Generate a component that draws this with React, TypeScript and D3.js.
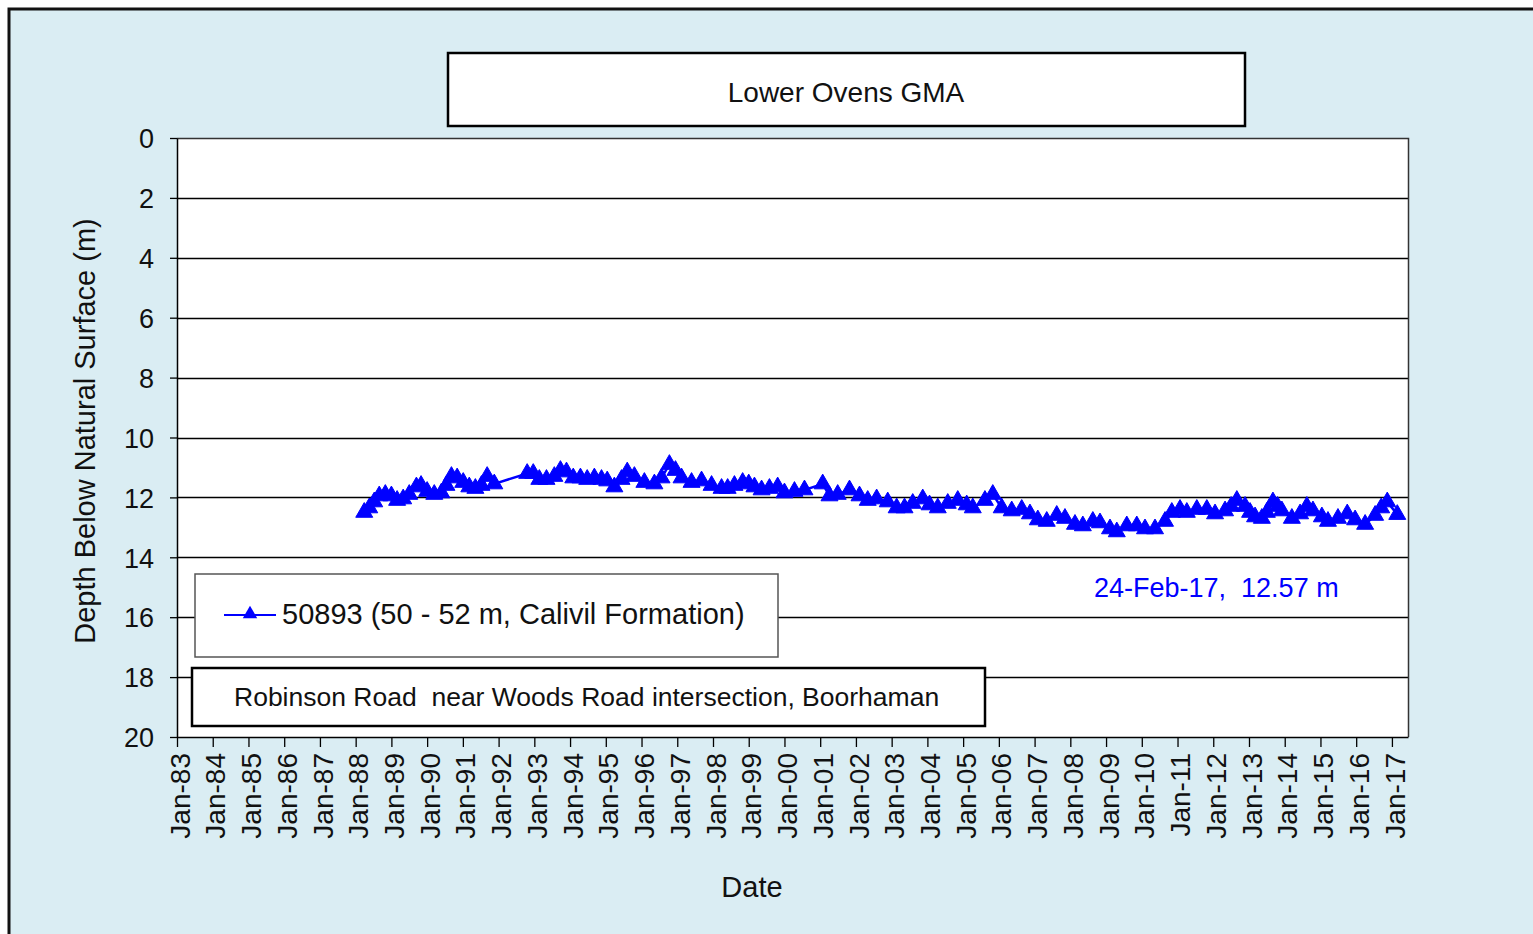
import { useEffect, useRef } from 'react';
import { axisBottom, axisLeft, line, range, scaleLinear, select, symbol, symbolTriangle } from 'd3';

// sample dates as decimal years
const sampleYears = [
  1988.24, 1988.38, 1988.52, 1988.66, 1988.83, 1989.0, 1989.16, 1989.33, 1989.5, 1989.7,
  1989.83, 1990.0, 1990.2, 1990.4, 1990.54, 1990.68, 1990.84, 1991.01, 1991.18, 1991.35,
  1991.52, 1991.68, 1991.88, 1992.8, 1992.97, 1993.14, 1993.34, 1993.56, 1993.73, 1993.9,
  1994.09, 1994.29, 1994.48, 1994.68, 1994.88, 1995.04, 1995.24, 1995.44, 1995.6, 1995.8,
  1996.08, 1996.36, 1996.56, 1996.78, 1996.95, 1997.12, 1997.4, 1997.68, 1997.96, 1998.24,
  1998.41, 1998.6, 1998.83, 1999.0, 1999.16, 1999.36, 1999.58, 1999.81, 2000.0, 2000.28,
  2000.56, 2001.07, 2001.26, 2001.49, 2001.82, 2002.1, 2002.33, 2002.58, 2002.89, 2003.14,
  2003.36, 2003.59, 2003.87, 2004.06, 2004.29, 2004.57, 2004.85, 2005.1, 2005.27, 2005.61,
  2005.83, 2006.08, 2006.36, 2006.64, 2006.87, 2007.09, 2007.34, 2007.62, 2007.85, 2008.13,
  2008.35, 2008.63, 2008.83, 2009.11, 2009.3, 2009.58, 2009.86, 2010.09, 2010.37, 2010.65,
  2010.84, 2011.07, 2011.26, 2011.54, 2011.82, 2012.05, 2012.33, 2012.5, 2012.66, 2012.89,
  2013.03, 2013.17, 2013.36, 2013.5, 2013.67, 2013.8, 2013.92, 2014.2, 2014.43, 2014.62,
  2014.79, 2015.04, 2015.21, 2015.49, 2015.75, 2015.97, 2016.25, 2016.53, 2016.7, 2016.87,
  2017.15,
];

// depth below natural surface (m)
const depths = [
  12.5, 12.35, 12.15, 11.95, 11.9, 11.95, 12.1, 12.05, 11.9, 11.65,
  11.6, 11.8, 11.9, 11.85, 11.6, 11.3, 11.35, 11.5, 11.65, 11.7,
  11.6, 11.3, 11.55, 11.2, 11.2, 11.4, 11.4, 11.3, 11.1, 11.15,
  11.35, 11.35, 11.4, 11.35, 11.4, 11.45, 11.65, 11.4, 11.15, 11.3,
  11.5, 11.55, 11.35, 10.9, 11.1, 11.35, 11.5, 11.45, 11.6, 11.7,
  11.7, 11.6, 11.5, 11.55, 11.65, 11.75, 11.7, 11.65, 11.85, 11.8,
  11.75, 11.55, 11.95, 11.9, 11.75, 11.95, 12.1, 12.05, 12.15, 12.35,
  12.35, 12.2, 12.05, 12.25, 12.35, 12.2, 12.1, 12.25, 12.35, 12.1,
  11.9, 12.35, 12.45, 12.4, 12.55, 12.75, 12.8, 12.6, 12.7, 12.9,
  12.95, 12.8, 12.85, 13.05, 13.15, 12.95, 12.95, 13.05, 13.05, 12.8,
  12.5, 12.4, 12.5, 12.4, 12.4, 12.55, 12.45, 12.3, 12.1, 12.3,
  12.5, 12.65, 12.7, 12.5, 12.15, 12.3, 12.45, 12.7, 12.55, 12.3,
  12.45, 12.65, 12.8, 12.7, 12.55, 12.75, 12.9, 12.6, 12.35, 12.15,
  12.57,
];

const tickYears = range(1983, 2018);
const depthTicks = [0, 2, 4, 6, 8, 10, 12, 14, 16, 18, 20];

const chartTitle = 'Lower Ovens GMA';
const seriesName = '50893 (50 - 52 m, Calivil Formation)';
const locationText = 'Robinson Road  near Woods Road intersection, Boorhaman';
const latestText = '24-Feb-17,  12.57 m';

const FONT = '"Liberation Sans", Arial, sans-serif';
const BLUE = '#0000ff';

export default function App() {
  const svgRef = useRef<SVGSVGElement | null>(null);

  const width = 1533;
  const height = 934;
  const plot = { left: 177, top: 138, right: 1408, bottom: 737 };

  useEffect(() => {
    const svgElement = svgRef.current;
    if (!svgElement) return;
    const svg = select(svgElement);
    svg.selectAll('*').remove();

    const x = scaleLinear().domain([1983, 2017.45]).range([plot.left, plot.right]);
    const y = scaleLinear().domain([0, 20]).range([plot.top, plot.bottom]);

    // outer frame
    svg.append('rect').attr('width', width).attr('height', height).attr('fill', '#ffffff');
    svg
      .append('rect')
      .attr('x', 9)
      .attr('y', 9)
      .attr('width', width + 40)
      .attr('height', height + 40)
      .attr('fill', '#daedf3')
      .attr('stroke', '#111')
      .attr('stroke-width', 3);

    // plot background
    svg
      .append('rect')
      .attr('x', plot.left)
      .attr('y', plot.top)
      .attr('width', plot.right - plot.left)
      .attr('height', plot.bottom - plot.top)
      .attr('fill', '#ffffff');

    // gridlines
    svg
      .append('g')
      .selectAll('line')
      .data(depthTicks.filter((d) => d > 0 && d < 20))
      .join('line')
      .attr('x1', plot.left)
      .attr('x2', plot.right)
      .attr('y1', (d) => Math.round(y(d)) + 0.5)
      .attr('y2', (d) => Math.round(y(d)) + 0.5)
      .attr('stroke', '#000')
      .attr('stroke-width', 1.3);

    // plot border top/right
    svg
      .append('path')
      .attr('d', `M${plot.left},${plot.top + 0.5}H${plot.right + 0.5}V${plot.bottom}`)
      .attr('fill', 'none')
      .attr('stroke', '#333')
      .attr('stroke-width', 1.5);

    // y axis
    const yAxis = svg
      .append('g')
      .attr('transform', `translate(${plot.left},0)`)
      .call(axisLeft(y).tickValues(depthTicks).tickSize(7).tickSizeOuter(0).tickPadding(16));
    yAxis.select('.domain').attr('stroke', '#000').attr('stroke-width', 1.5);
    yAxis.selectAll('.tick line').attr('stroke', '#000').attr('stroke-width', 1.3);
    yAxis
      .selectAll('.tick text')
      .attr('font-family', FONT)
      .attr('font-size', 27)
      .attr('fill', '#111')
      .attr('dy', '0.36em');

    // x axis
    const xAxis = svg
      .append('g')
      .attr('transform', `translate(0,${plot.bottom})`)
      .call(
        axisBottom(x)
          .tickValues(tickYears)
          .tickSize(10)
          .tickSizeOuter(0)
          .tickFormat((d) => `Jan-${String(Number(d) % 100).padStart(2, '0')}`),
      );
    xAxis.select('.domain').attr('stroke', '#000').attr('stroke-width', 1.5);
    xAxis.selectAll('.tick line').attr('stroke', '#000').attr('stroke-width', 1.3);
    xAxis
      .selectAll('.tick text')
      .attr('font-family', FONT)
      .attr('font-size', 28)
      .attr('fill', '#111')
      .attr('text-anchor', 'end')
      .attr('transform', 'rotate(-90)')
      .attr('x', -16)
      .attr('y', 2)
      .attr('dy', '0.36em');

    // series line + markers
    const points = sampleYears.map((yr, i) => [yr, depths[i]] as [number, number]);
    const path = line<[number, number]>()
      .x((d) => x(d[0]))
      .y((d) => y(d[1]));
    svg
      .append('path')
      .datum(points)
      .attr('d', path)
      .attr('fill', 'none')
      .attr('stroke', BLUE)
      .attr('stroke-width', 2.5);

    const tri = symbol().type(symbolTriangle).size(125);
    svg
      .append('g')
      .selectAll('path')
      .data(points)
      .join('path')
      .attr('transform', (d) => `translate(${x(d[0])},${y(d[1])})`)
      .attr('d', tri)
      .attr('fill', BLUE)
      .attr('stroke', BLUE)
      .attr('stroke-width', 1);

    // title box
    svg
      .append('rect')
      .attr('x', 448)
      .attr('y', 53)
      .attr('width', 797)
      .attr('height', 73)
      .attr('fill', '#fff')
      .attr('stroke', '#000')
      .attr('stroke-width', 2.5);
    svg
      .append('text')
      .attr('x', 846)
      .attr('y', 92)
      .attr('text-anchor', 'middle')
      .attr('dy', '0.35em')
      .attr('font-family', FONT)
      .attr('font-size', 28)
      .attr('fill', '#111')
      .text(chartTitle);

    // legend box
    svg
      .append('rect')
      .attr('x', 195)
      .attr('y', 574)
      .attr('width', 583)
      .attr('height', 83)
      .attr('fill', '#fff')
      .attr('stroke', '#555')
      .attr('stroke-width', 1.5);
    svg
      .append('line')
      .attr('x1', 224)
      .attr('x2', 276)
      .attr('y1', 615)
      .attr('y2', 615)
      .attr('stroke', BLUE)
      .attr('stroke-width', 2);
    svg
      .append('path')
      .attr('transform', 'translate(250,614)')
      .attr('d', symbol().type(symbolTriangle).size(90))
      .attr('fill', BLUE);
    svg
      .append('text')
      .attr('x', 282)
      .attr('y', 614)
      .attr('dy', '0.35em')
      .attr('font-family', FONT)
      .attr('font-size', 29)
      .attr('fill', '#111')
      .text(seriesName);

    // location box
    svg
      .append('rect')
      .attr('x', 192)
      .attr('y', 668)
      .attr('width', 793)
      .attr('height', 58)
      .attr('fill', '#fff')
      .attr('stroke', '#000')
      .attr('stroke-width', 2.5);
    svg
      .append('text')
      .attr('x', 234)
      .attr('y', 697)
      .attr('dy', '0.35em')
      .attr('font-family', FONT)
      .attr('font-size', 26.5)
      .attr('fill', '#111')
      .style('white-space', 'pre')
      .text(locationText);

    // latest reading
    svg
      .append('text')
      .attr('x', 1094)
      .attr('y', 588)
      .attr('dy', '0.35em')
      .attr('font-family', FONT)
      .attr('font-size', 27)
      .attr('fill', BLUE)
      .style('white-space', 'pre')
      .text(latestText);

    // axis titles
    svg
      .append('text')
      .attr('transform', 'translate(85,431) rotate(-90)')
      .attr('text-anchor', 'middle')
      .attr('dy', '0.35em')
      .attr('font-family', FONT)
      .attr('font-size', 29)
      .attr('fill', '#111')
      .text('Depth Below Natural Surface (m)');
    svg
      .append('text')
      .attr('x', 752)
      .attr('y', 887)
      .attr('text-anchor', 'middle')
      .attr('dy', '0.35em')
      .attr('font-family', FONT)
      .attr('font-size', 29)
      .attr('fill', '#111')
      .text('Date');
  }, []);

  return (
    <svg
      ref={svgRef}
      width={width}
      height={height}
      style={{ position: 'absolute', left: 0, top: 0, display: 'block' }}
    />
  );
}
